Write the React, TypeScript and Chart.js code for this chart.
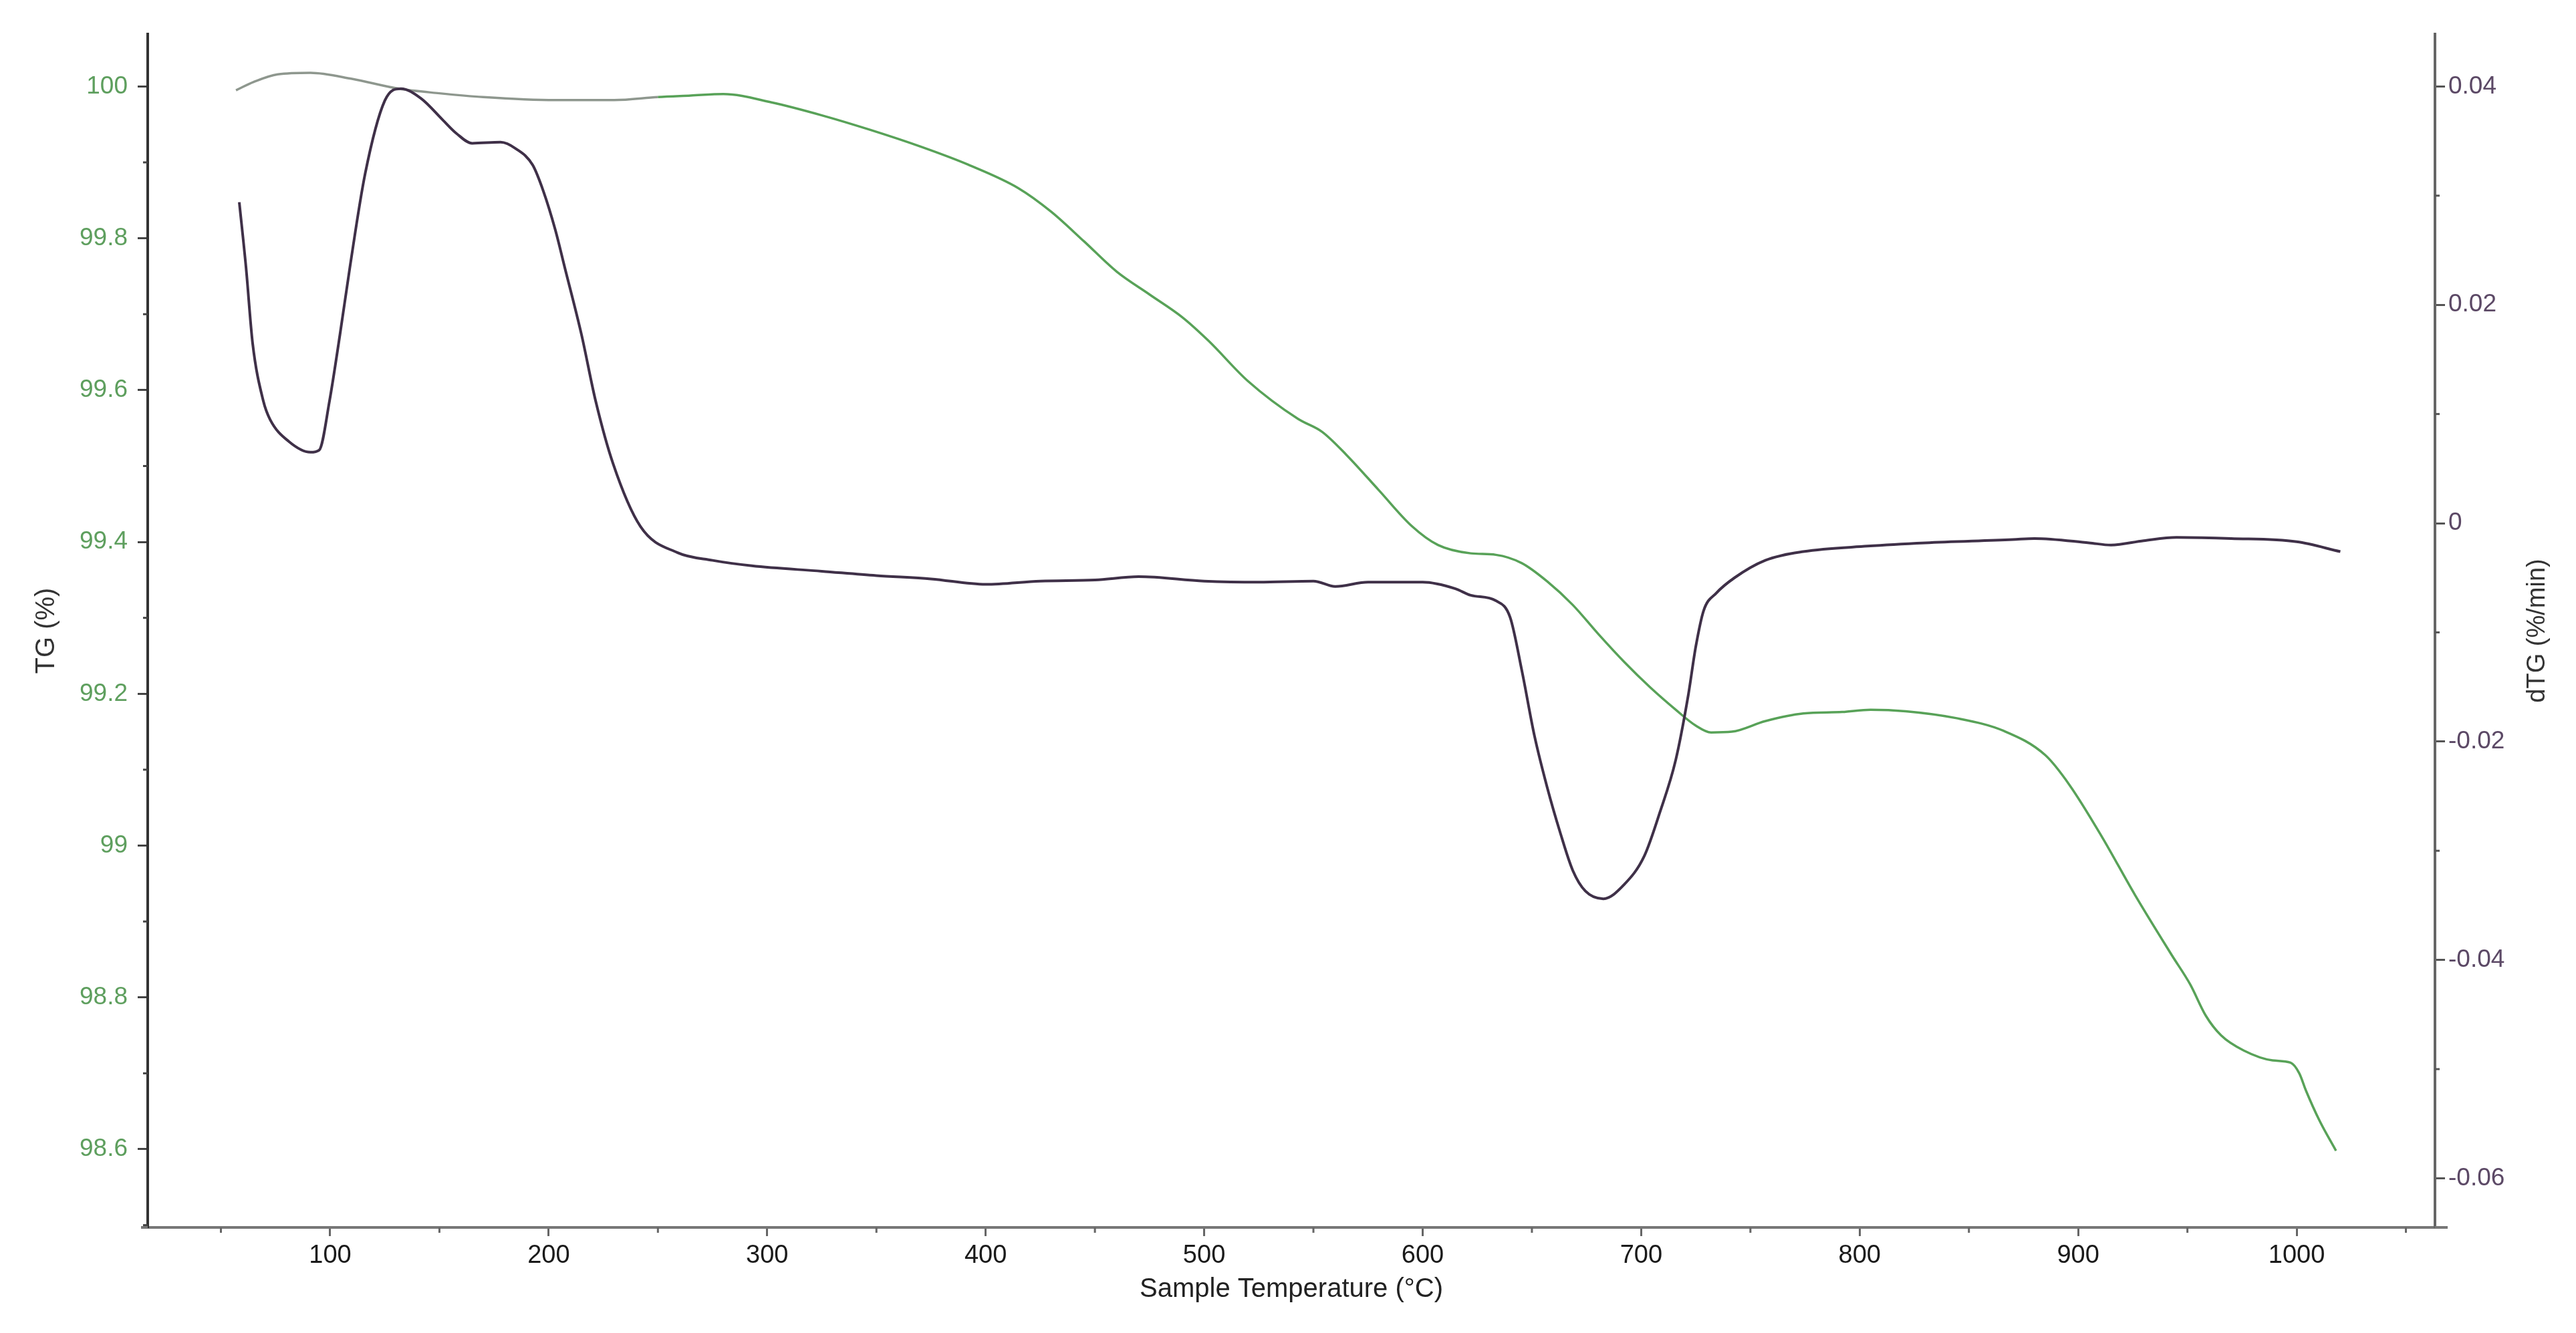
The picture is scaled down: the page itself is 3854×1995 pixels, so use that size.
import React, { useEffect, useRef } from 'react';
import { Chart, registerables } from 'chart.js';

Chart.register(...registerables);

// ---------- data ----------
const temperatureTG = [
  56.9, 65, 76, 91, 110, 131.5, 150, 170, 203, 230, 250, 265, 280, 302, 325, 347, 370, 392,
  415, 430, 445, 460, 475, 490, 502, 520, 543, 554, 565, 580, 595, 607, 622, 633.5, 645.4,
  657, 668.7, 680.6, 692.2, 703.9, 715.8, 725, 732, 741.5, 756.8, 774.2, 792, 805, 821, 844,
  866, 885, 896, 911, 926, 943, 951.3, 958.4, 965.4, 975.8, 989, 997.2, 1001.2, 1004.3,
  1010.4, 1018,
];
const tgValues = [
  99.995, 100.006, 100.016, 100.018, 100.01, 99.997, 99.991, 99.986, 99.982, 99.982, 99.986,
  99.988, 99.99, 99.979, 99.962, 99.943, 99.921, 99.897, 99.866, 99.835, 99.796, 99.756,
  99.726, 99.696, 99.665, 99.612, 99.562, 99.545, 99.515, 99.468, 99.421, 99.396, 99.385,
  99.383, 99.372, 99.348, 99.317, 99.278, 99.242, 99.209, 99.179, 99.158, 99.149, 99.15,
  99.164, 99.174, 99.176, 99.179, 99.177, 99.168, 99.151, 99.119, 99.08, 99.011, 98.935,
  98.855, 98.817, 98.776, 98.75, 98.73, 98.717, 98.714, 98.7, 98.677, 98.638, 98.598,
];

const temperatureDTG = [
  58.4, 61.5, 64.5, 69.4, 72.5, 81, 91, 95, 99.7, 104.5, 109, 116, 125, 132.4, 141.6, 151.7,
  157.8, 165, 178, 185, 192.7, 197.6, 203, 207.4, 215, 221.5, 229.4, 242, 259, 275, 293, 325,
  350, 375, 400, 425, 450, 470, 500, 525, 550, 560, 575, 600, 615, 622, 633.5, 640, 645.4,
  651.2, 657, 662.9, 668.7, 674.5, 682.7, 692.2, 701.4, 708.7, 715.8, 721.6, 725, 728.6,
  734.4, 742.7, 756.8, 774.2, 803.6, 830, 870, 880, 905, 915, 930, 945, 970, 1000, 1020,
];
const dtgValues = [
  0.0294, 0.0234, 0.0165, 0.0112, 0.0095, 0.0075, 0.0065, 0.0067, 0.0112, 0.0173, 0.0234,
  0.032, 0.0387, 0.0398, 0.0389, 0.0369, 0.0357, 0.0348, 0.0349, 0.0343, 0.0328, 0.0304,
  0.0269, 0.0234, 0.0173, 0.0112, 0.0055, -0.0003, -0.0027, -0.0034, -0.0039, -0.0044,
  -0.0048, -0.0051, -0.0056, -0.0053, -0.0052, -0.0049, -0.0053, -0.0054, -0.0053, -0.0058,
  -0.0054, -0.0054, -0.006, -0.0066, -0.0071, -0.0086, -0.0135, -0.0195, -0.0242, -0.0283,
  -0.0318, -0.0337, -0.0344, -0.0331, -0.0305, -0.0264, -0.0217, -0.0157, -0.0113, -0.008,
  -0.0064, -0.005, -0.0034, -0.0026, -0.0021, -0.0018, -0.0015, -0.0014, -0.0018, -0.002,
  -0.0016, -0.0013, -0.0014, -0.0017, -0.0026,
];

const xTicks = [100, 200, 300, 400, 500, 600, 700, 800, 900, 1000];
const xMinorTicks = [50, 150, 250, 350, 450, 550, 650, 750, 850, 950, 1050];
const tgTicks = [98.6, 98.8, 99, 99.2, 99.4, 99.6, 99.8, 100];
const tgMinorTicks = [98.5, 98.7, 98.9, 99.1, 99.3, 99.5, 99.7, 99.9];
const dtgTicks = [-0.06, -0.04, -0.02, 0, 0.02, 0.04];
const dtgMinorTicks = [-0.05, -0.03, -0.01, 0.01, 0.03];

const X_MIN = 16.5;
const X_MAX = 1063.3;
const TG_MIN = 98.497;
const TG_MAX = 100.069;
const DTG_MIN = -0.0645;
const DTG_MAX = 0.0448;

const W = 3854;
const H = 1995;
const FONT = "'Liberation Sans', Arial, Helvetica, sans-serif";

const extrasPlugin = {
  id: 'extras',
  afterDraw(chart: any) {
    const { ctx, chartArea, scales } = chart;
    const { left, right, top, bottom } = chartArea;
    ctx.save();
    ctx.lineWidth = 3;
    // minor ticks
    ctx.strokeStyle = '#666';
    xMinorTicks.forEach((v) => {
      const px = scales.x.getPixelForValue(v);
      ctx.beginPath();
      ctx.moveTo(px, bottom);
      ctx.lineTo(px, bottom + 8);
      ctx.stroke();
    });
    ctx.strokeStyle = '#444';
    tgMinorTicks.forEach((v) => {
      const py = scales.yTG.getPixelForValue(v);
      ctx.beginPath();
      ctx.moveTo(left - 7, py);
      ctx.lineTo(left, py);
      ctx.stroke();
    });
    ctx.strokeStyle = '#555';
    dtgMinorTicks.forEach((v) => {
      const py = scales.yDTG.getPixelForValue(v);
      ctx.beginPath();
      ctx.moveTo(right, py);
      ctx.lineTo(right + 7, py);
      ctx.stroke();
    });
    // axis line overhangs
    ctx.strokeStyle = '#777';
    ctx.lineWidth = 4;
    ctx.beginPath();
    ctx.moveTo(left - 10, bottom);
    ctx.lineTo(left, bottom);
    ctx.moveTo(right, bottom);
    ctx.lineTo(right + 19, bottom);
    ctx.stroke();
    // right axis title (reads bottom to top)
    ctx.translate(3797, (top + bottom) / 2);
    ctx.rotate(-Math.PI / 2);
    ctx.fillStyle = '#333';
    ctx.font = `38px ${FONT}`;
    ctx.textAlign = 'center';
    ctx.textBaseline = 'middle';
    ctx.fillText('dTG (%/min)', 0, 0);
    ctx.restore();
  },
};

function fmt(v: number, d: number) {
  const r = Number(v.toFixed(d));
  return (Object.is(r, -0) ? 0 : r).toString();
}

export default function App() {
  const canvasRef = useRef<HTMLCanvasElement | null>(null);

  useEffect(() => {
    const canvas = canvasRef.current;
    if (!canvas) return;
    const tgData = temperatureTG.map((t, i) => ({ x: t, y: tgValues[i] }));
    const dtgData = temperatureDTG.map((t, i) => ({ x: t, y: dtgValues[i] }));

    const chart = new Chart(canvas, {
      type: 'line',
      data: {
        datasets: [
          {
            label: 'dTG',
            data: dtgData,
            yAxisID: 'yDTG',
            borderColor: '#3f3048',
            borderWidth: 4,
            pointRadius: 0,
            cubicInterpolationMode: 'monotone',
            fill: false,
          },
          {
            label: 'TG',
            data: tgData,
            yAxisID: 'yTG',
            borderColor: '#58a258',
            borderWidth: 3.5,
            pointRadius: 0,
            cubicInterpolationMode: 'monotone',
            fill: false,
            segment: {
              borderColor: (c: any) => (c.p0.parsed.x < 250 ? '#8e978e' : '#58a258'),
            },
          },
        ],
      },
      options: {
        responsive: false,
        animation: false,
        devicePixelRatio: 1,
        layout: { padding: { top: 51, left: 0, right: 0, bottom: 0 } },
        plugins: { legend: { display: false }, tooltip: { enabled: false } },
        scales: {
          x: {
            type: 'linear',
            min: X_MIN,
            max: X_MAX,
            afterBuildTicks: (s: any) => {
              s.ticks = xTicks.map((v) => ({ value: v }));
            },
            afterFit: (s: any) => {
              s.height = H - 1837;
            },
            grid: {
              drawOnChartArea: false,
              drawTicks: true,
              tickLength: 13,
              tickWidth: 3,
              tickColor: '#666',
            },
            border: { display: true, color: '#777', width: 4 },
            ticks: {
              autoSkip: false,
              maxRotation: 0,
              padding: 7,
              color: '#1a1a1a',
              font: { size: 38, family: FONT },
              callback: (v: any) => fmt(Number(v), 0),
            },
            title: {
              display: true,
              text: 'Sample Temperature (°C)',
              color: '#222',
              font: { size: 40, family: FONT },
              padding: { top: 0, bottom: 41 },
            },
          },
          yTG: {
            type: 'linear',
            position: 'left',
            min: TG_MIN,
            max: TG_MAX,
            afterBuildTicks: (s: any) => {
              s.ticks = tgTicks.map((v) => ({ value: v }));
            },
            afterFit: (s: any) => {
              s.width = 221;
            },
            grid: {
              drawOnChartArea: false,
              drawTicks: true,
              tickLength: 15,
              tickWidth: 3,
              tickColor: '#444',
            },
            border: { display: true, color: '#333', width: 4 },
            ticks: {
              autoSkip: false,
              padding: 15,
              color: '#5e9f5e',
              font: { size: 37, family: FONT },
              callback: (v: any) => fmt(Number(v), 2),
            },
            title: {
              display: true,
              text: 'TG (%)',
              color: '#333',
              font: { size: 40, family: FONT },
              padding: { top: 46, bottom: 0 },
            },
          },
          yDTG: {
            type: 'linear',
            position: 'right',
            min: DTG_MIN,
            max: DTG_MAX,
            afterBuildTicks: (s: any) => {
              s.ticks = dtgTicks.map((v) => ({ value: v }));
            },
            afterFit: (s: any) => {
              s.width = W - 3643;
            },
            grid: {
              drawOnChartArea: false,
              drawTicks: true,
              tickLength: 15,
              tickWidth: 3,
              tickColor: '#555',
            },
            border: { display: true, color: '#666', width: 4 },
            ticks: {
              autoSkip: false,
              padding: 5,
              color: '#5c4966',
              font: { size: 37, family: FONT },
              callback: (v: any) => fmt(Number(v), 3),
            },
          },
        },
      },
      plugins: [extrasPlugin],
    } as any);

    return () => {
      chart.destroy();
    };
  }, []);

  return (
    <div style={{ position: 'fixed', left: 0, top: 0, width: W, height: H, background: '#fff' }}>
      <canvas ref={canvasRef} width={W} height={H} style={{ display: 'block', width: W, height: H }} />
    </div>
  );
}
